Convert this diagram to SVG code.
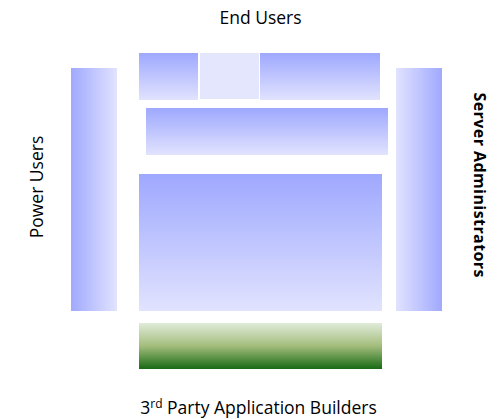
<svg xmlns="http://www.w3.org/2000/svg" width="498" height="419" viewBox="0 0 498 419">
  <defs>
    <linearGradient id="blueDown" x1="0" y1="0" x2="0" y2="1">
      <stop offset="0" stop-color="#9ea8fe"/>
      <stop offset="1" stop-color="#e1e3fe"/>
    </linearGradient>
    <linearGradient id="blueRight" x1="0" y1="0" x2="1" y2="0">
      <stop offset="0" stop-color="#a0a9fe"/>
      <stop offset="1" stop-color="#e1e3fe"/>
    </linearGradient>
    <linearGradient id="blueLeft" x1="1" y1="0" x2="0" y2="0">
      <stop offset="0" stop-color="#a0a9fe"/>
      <stop offset="1" stop-color="#e1e3fe"/>
    </linearGradient>
    <linearGradient id="greenDown" x1="0" y1="0" x2="0" y2="1">
      <stop offset="0" stop-color="#e0ebd9"/>
      <stop offset="0.5" stop-color="#a3bd7c"/>
      <stop offset="1" stop-color="#186a14"/>
    </linearGradient>
  </defs>
  <style>
    .lbl { font-family: "Open Sans", "Liberation Sans", sans-serif; font-size: 17.5px; fill: #000; }
    .bold { font-weight: bold; font-size: 16px; }
  </style>

  <!-- top row -->
  <g id="top-left"><rect x="139" y="53" width="59" height="47" fill="url(#blueDown)"/></g>
  <g id="top-middle"><rect x="200" y="53" width="59" height="46" fill="#e4e6fe"/></g>
  <g id="top-right"><rect x="260" y="53" width="120" height="47" fill="url(#blueDown)"/></g>

  <!-- second band -->
  <g id="band"><rect x="146" y="108" width="242" height="47" fill="url(#blueDown)"/></g>

  <!-- main block -->
  <g id="core"><rect x="139" y="174" width="243" height="137" fill="url(#blueDown)"/></g>

  <!-- base -->
  <g id="base"><rect x="139" y="323" width="243" height="46" fill="url(#greenDown)"/></g>

  <!-- side columns -->
  <g id="left-column"><rect x="71" y="68" width="46" height="243" fill="url(#blueRight)"/></g>
  <g id="right-column"><rect x="396" y="68" width="46" height="243" fill="url(#blueLeft)"/></g>

  <g id="connectors"/>

  <!-- labels -->
  <g id="label-top"><text class="lbl" x="260.5" y="23.5" text-anchor="middle">End Users</text></g>
  <g id="label-bottom"><text class="lbl" x="258.5" y="414" text-anchor="middle" font-size="18.5">3<tspan font-size="12" dy="-6">rd</tspan><tspan dy="6"> Party Application Builders</tspan></text></g>
  <g id="label-left"><text class="lbl" transform="translate(43,187) rotate(-90)" text-anchor="middle">Power Users</text></g>
  <g id="label-right"><text class="lbl bold" transform="translate(474,185) rotate(90)" text-anchor="middle" textLength="185">Server Administrators</text></g>
</svg>
